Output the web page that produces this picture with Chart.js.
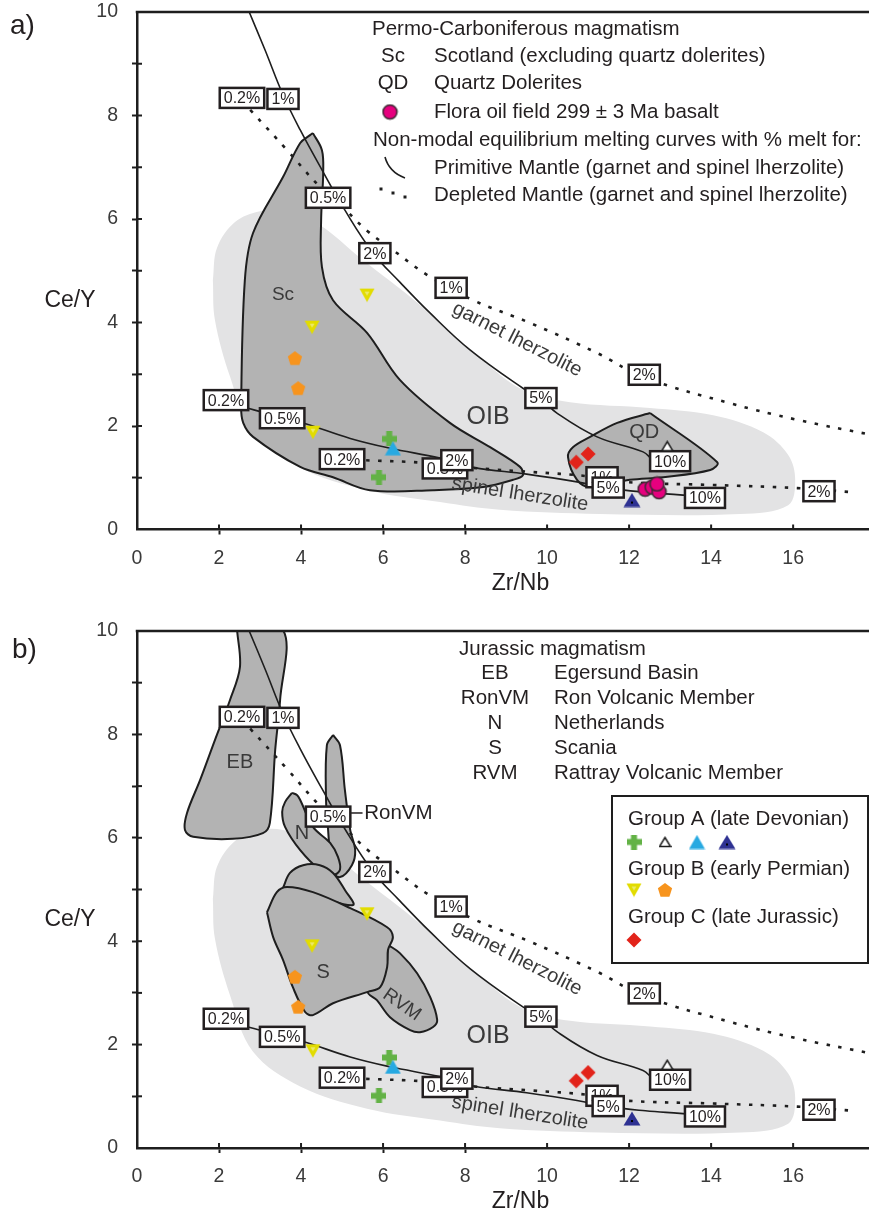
<!DOCTYPE html>
<html>
<head>
<meta charset="utf-8">
<script src="https://cdn.jsdelivr.net/npm/chart.js@4.4.1/dist/chart.umd.min.js"></script>
<style>
  body { margin: 0; background: #fff; }
  canvas { display: block; }
</style>
</head>
<body>
<canvas id="chartA" width="869" height="600"></canvas>
<canvas id="chartB" width="869" height="620"></canvas>
<script>
const FONT = "'Liberation Sans', Arial, Helvetica, sans-serif";
Chart.defaults.font.family = FONT;

//region data (Zr/Nb, Ce/Y)
const X_MAX = 17.85;

// OIB field (light grey, no outline)
const oibField = [[1.85,4.82],[1.95,5.44],[2.39,5.94],[3.0,6.15],[3.56,6.15],[4.46,5.88],[5.44,5.25],[6.9,4.34],[8.37,3.31],[9.41,2.7],[10.56,2.46],[12.51,2.35],[14.05,2.21],[15.27,1.88],[15.88,1.44],[16.05,0.96],[15.88,0.47],[14.71,0.3],[11.29,0.3],[8.85,0.38],[7.39,0.53],[5.61,0.76],[3.98,1.19],[2.83,1.86],[2.27,2.95],[1.9,4.05]];

// panel a fields
const scField = [[4.29,7.66],[4.51,7.33],[4.54,6.89],[4.49,5.98],[4.51,5.07],[4.78,4.43],[5.61,3.8],[6.41,2.89],[7.63,2.06],[8.61,1.59],[9.34,1.21],[9.41,1.05],[9.17,0.96],[8.44,0.82],[7.22,0.76],[5.68,0.76],[4.78,1.01],[3.98,1.21],[2.83,1.79],[2.59,2.06],[2.54,2.37],[2.63,4.82],[2.83,5.73],[3.56,6.81],[3.98,7.47],[4.22,7.62]];
const qdField = [[12.51,2.25],[14.15,1.3],[13.98,1.15],[12.83,1.01],[12.02,0.96],[11.05,0.82],[10.73,0.96],[10.51,1.4],[10.63,1.59],[11.05,1.79],[11.71,2.06]];

// panel b fields
const ebField = [[2.44,10.02],[2.51,9.3],[2.27,8.67],[1.9,7.89],[1.54,7.12],[1.22,6.48],[1.17,6.15],[1.37,6.02],[2.34,5.98],[3.07,6.09],[3.24,6.29],[3.37,7.7],[3.49,8.67],[3.56,10.02]];
const ronField = [[4.78,7.99],[4.95,7.79],[5.07,6.92],[5.2,6.15],[5.32,5.76],[5.24,5.47],[4.95,5.24],[4.71,5.38],[4.71,5.57],[4.66,6.15],[4.61,6.73],[4.63,7.79]];
const nField = [[3.78,6.87],[3.61,6.69],[3.54,6.5],[3.61,6.21],[3.98,5.76],[4.46,5.38],[4.78,5.28],[4.95,5.38],[4.9,5.63],[4.71,5.9],[4.29,6.21],[3.98,6.73],[3.9,6.83]];
const blobField = [[3.56,5.03],[3.73,5.32],[4.05,5.47],[4.46,5.47],[4.78,5.32],[5.07,4.99],[5.27,4.7],[4.46,4.84],[3.73,4.99]];
const sField = [[3.17,4.56],[3.41,4.95],[3.66,5.05],[4.29,4.95],[5.2,4.64],[6.1,4.27],[6.24,4.08],[6.12,3.83],[6.1,3.5],[5.93,3.11],[5.63,3.02],[4.78,2.8],[4.29,2.57],[4.1,2.63],[3.8,3.11],[3.56,3.64],[3.32,4.08]];
const rvmField = [[6.12,3.93],[6.41,3.77],[6.83,3.38],[7.15,2.92],[7.32,2.48],[7.22,2.34],[6.9,2.24],[6.66,2.28],[6.17,2.53],[5.85,2.86],[5.63,3.02],[6.05,3.44]];

// non-modal equilibrium melting curves
const garnetPM = [[2.71,10.05],[3.12,9.27],[3.56,8.4],[3.98,7.72],[4.51,6.95],[5.07,6.17],[5.76,5.34],[6.41,4.78],[7.15,4.18],[8.12,3.47],[9.41,2.73],[9.83,2.54],[10.24,2.25],[11.22,1.79],[12.34,1.5],[12.55,1.36]];
const garnetDM = [[2.76,8.11],[3.66,7.33],[4.46,6.62],[5.12,6.15],[5.6,5.78],[6.24,5.4],[7.15,4.88],[8.2,4.43],[9.59,3.99],[11.22,3.41],[12.34,2.95],[14.46,2.44],[16.1,2.12],[17.9,1.83]];
const spinelPM = [[2.17,2.5],[2.59,2.37],[3.05,2.27],[3.54,2.15],[4.05,2.06],[5.2,1.76],[6.17,1.57],[7.39,1.38],[8.2,1.2],[9.5,1.07],[10.73,0.92],[11.5,0.8],[12.4,0.72],[13.24,0.67],[13.85,0.63]];
const spinelDM = [[5.0,1.36],[5.51,1.34],[6.98,1.29],[8.2,1.19],[9.66,1.11],[10.98,1.03],[11.85,0.92],[14.05,0.86],[16.1,0.8],[17.46,0.72]];

// % melt tags on the curves
const garnetPMTags = [['1%',3.56,8.32],['2%',5.8,5.34],['5%',9.85,2.54],['10%',13.0,1.32]];
const garnetDMTags = [['0.2%',2.56,8.34],['0.5%',4.66,6.41],['1%',7.66,4.67],['2%',12.37,2.99]];
const spinelPMTags = [['0.2%',2.17,2.5],['0.5%',3.54,2.15],['2%',7.8,1.34],['5%',11.49,0.81],['10%',13.85,0.61]];
const spinelDMTags = [['0.2%',5.0,1.36],['0.5%',7.51,1.18],['1%',11.34,1.01],['2%',16.63,0.74]];

// samples
const groupA_green = [[6.15,1.75],[5.9,1.01]];
const groupA_open = [[12.93,1.61]];
const groupA_cyan = [[6.24,1.57]];
const groupA_navy = [[12.07,0.57]];
const groupB_yellow = [[5.61,4.53],[4.27,3.91],[4.29,1.88]];
const groupB_orange = [[3.85,3.31],[3.93,2.73]];
const groupC_red = [[10.71,1.3],[11.0,1.46]];
const floraBasalt = [[12.39,0.78],[12.56,0.82],[12.73,0.73],[12.68,0.88]];

// field / curve names
const fieldNamesA = [['Sc',3.56,4.53],['OIB',8.56,2.17],['QD',12.37,1.88]];
const fieldNamesB = [['EB',2.51,7.45],['N',4.02,6.09],['S',4.54,3.4],['RVM',6.46,2.77],['OIB',8.56,2.17]];
const curveNames = [['garnet lherzolite',9.27,3.67],['spinel lherzolite',9.34,0.68]];
//endregion

const nameSize = { OIB: 25, Sc: 19, QD: 20, EB: 20, N: 20, S: 20, RVM: 19 };
const nameAngle = { RVM: 35, 'garnet lherzolite': 27, 'spinel lherzolite': 9 };

const xy = arr => arr.map(p => ({ x: p[0], y: p[1] }));

function icon(w, h, draw) {
    const c = document.createElement('canvas');
    c.width = w; c.height = h;
    draw(c.getContext('2d'));
    return c;
}
function poly(g, pts, fill, stroke, lw) {
    g.beginPath();
    pts.forEach((p, i) => i ? g.lineTo(p[0], p[1]) : g.moveTo(p[0], p[1]));
    g.closePath();
    if (fill) { g.fillStyle = fill; g.fill(); }
    if (stroke) { g.strokeStyle = stroke; g.lineWidth = lw; g.stroke(); }
}
const icons = {
    green: icon(15, 15, g => { g.fillStyle = '#63b246'; g.fillRect(4.5, 0, 6, 15); g.fillRect(0, 4.5, 15, 6); }),
    open: icon(13, 12, g => poly(g, [[6.5, 1.5], [12, 10.5], [1, 10.5]], '#fff', '#1e1e1e', 1.5)),
    cyan: icon(17, 15, g => poly(g, [[8.5, 0.5], [16.5, 14.5], [0.5, 14.5]], '#27a9e1')),
    navy: icon(18, 15, g => { poly(g, [[9, 0.5], [17.5, 14.5], [0.5, 14.5]], '#2e3192'); g.fillStyle = '#000'; g.fillRect(8, 9, 2, 2); }),
    yellow: icon(16, 15, g => { poly(g, [[0.5, 1], [15.5, 1], [8, 14.5]], '#e2dc00'); poly(g, [[5.5, 4], [10.5, 4], [8, 8]], '#ecea6a'); }),
    orange: icon(16, 16, g => {
        const pts = [];
        for (let i = 0; i < 5; i++) { const a = -Math.PI / 2 + i * 2 * Math.PI / 5; pts.push([8 + 7.5 * Math.cos(a), 8.6 + 7.5 * Math.sin(a)]); }
        poly(g, pts, '#f7941d');
    }),
    red: icon(16, 16, g => poly(g, [[8, 0.5], [15.5, 8], [8, 15.5], [0.5, 8]], '#e2231a')),
    pink: icon(17, 17, g => { g.beginPath(); g.arc(8.5, 8.5, 7, 0, Math.PI * 2); g.fillStyle = '#e6007e'; g.fill(); g.strokeStyle = '#3a2a33'; g.lineWidth = 1.5; g.stroke(); })
};

function fieldSet(label, arr, color, outline) {
    return {
        label, data: xy(arr.concat([arr[0]])), showLine: true, fill: 'shape',
        backgroundColor: color, borderColor: outline ? '#1e1e1e' : 'rgba(0,0,0,0)',
        borderWidth: outline ? 2 : 1, pointRadius: 0, tension: 0.35
    };
}
function curveSet(label, arr, dotted) {
    return {
        label, data: xy(arr), showLine: true, fill: false, borderColor: '#1e1e1e',
        borderWidth: dotted ? 2.6 : 1.6, borderDash: dotted ? [3.5, 8.5] : [],
        pointRadius: 0, tension: 0.4
    };
}
function pointSet(label, arr, img) {
    return { label, data: xy(arr), showLine: false, pointStyle: img, pointRadius: 5, pointHoverRadius: 5 };
}

function text(ctx, s, x, y, size, align, color, rot) {
    ctx.save();
    ctx.translate(x, y);
    if (rot) ctx.rotate(rot * Math.PI / 180);
    ctx.font = size + 'px ' + FONT;
    ctx.fillStyle = color || '#231f20';
    ctx.textAlign = align || 'left';
    ctx.textBaseline = 'middle';
    ctx.fillText(s, 0, 0);
    ctx.restore();
}
function line(ctx, x1, y1, x2, y2) {
    ctx.beginPath(); ctx.moveTo(x1, y1); ctx.lineTo(x2, y2); ctx.stroke();
}
function tagBox(ctx, t, px, py) {
    ctx.font = '16px ' + FONT;
    const w = ctx.measureText(t).width + 8, h = 20;
    ctx.fillStyle = '#fff';
    ctx.fillRect(px - w / 2, py - h / 2, w, h);
    ctx.lineWidth = 2.5;
    ctx.strokeStyle = '#231f20';
    ctx.strokeRect(px - w / 2, py - h / 2, w, h);
    text(ctx, t, px, py + 1, 16, 'center', '#231f20');
}

const annot = {
    id: 'annot',
    afterDatasetDraw(chart, args, opts) {
        if (chart.data.datasets[args.index].label !== 'garnetPM') return;
        const ctx = chart.ctx, X = v => chart.scales.x.getPixelForValue(v), Y = v => chart.scales.y.getPixelForValue(v);
        const names = opts.panel === 'a' ? fieldNamesA : fieldNamesB;
        names.forEach(([t, x, y]) => text(ctx, t, X(x), Y(y), nameSize[t], 'center', '#3a3a3a', nameAngle[t]));
        curveNames.forEach(([t, x, y]) => text(ctx, t, X(x), Y(y), 20, 'center', '#3a3a3a', nameAngle[t]));
        [garnetDMTags, spinelDMTags, garnetPMTags, spinelPMTags].forEach(list =>
            list.forEach(([t, x, y]) => tagBox(ctx, t, X(x), Y(y))));
        if (opts.panel === 'b') {
            ctx.strokeStyle = '#231f20'; ctx.lineWidth = 1.5;
            line(ctx, X(5.22), Y(6.48), X(5.5), Y(6.48));
            text(ctx, 'RonVM', X(5.54), Y(6.48), 20.5, 'left');
        }
    },
    afterDraw(chart, args, opts) {
        const ctx = chart.ctx, a = chart.chartArea, xs = chart.scales.x, ys = chart.scales.y;
        ctx.save();
        ctx.strokeStyle = '#1e1e1e';
        ctx.lineWidth = 2.5;
        line(ctx, a.left - 1.25, a.top, a.right, a.top);
        ctx.lineWidth = 2;
        xs.ticks.forEach((t, i) => { if (t.value > 0) { const p = xs.getPixelForTick(i); line(ctx, p, a.bottom, p, a.bottom - 5); } });
        ys.ticks.forEach((t, i) => { if (t.value > 0 && t.value < 10) { const p = ys.getPixelForTick(i); line(ctx, a.left, p, a.left + 5, p); } });

        text(ctx, 'Ce/Y', 70, ys.getPixelForValue(4.42), 23, 'center', '#231f20');
        text(ctx, 'Zr/Nb', xs.getPixelForValue(9.35), a.bottom + 54, 23, 'center', '#231f20');

        const f = 20.5;
        if (opts.panel === 'a') {
            text(ctx, 'a)', 10, 26, 28, 'left');
            text(ctx, 'Permo-Carboniferous magmatism', 372, 29, f);
            text(ctx, 'Sc', 393, 56, f, 'center');
            text(ctx, 'Scotland (excluding quartz dolerites)', 434, 56, f);
            text(ctx, 'QD', 393, 83, f, 'center');
            text(ctx, 'Quartz Dolerites', 434, 83, f);
            ctx.drawImage(icons.pink, 390 - 8.5, 112 - 8.5);
            text(ctx, 'Flora oil field 299 ± 3 Ma basalt', 434, 112, f);
            text(ctx, 'Non-modal equilibrium melting curves with % melt for:', 373, 140, f);
            ctx.lineWidth = 1.6;
            ctx.beginPath(); ctx.moveTo(385, 157); ctx.quadraticCurveTo(389, 172, 405, 178); ctx.stroke();
            text(ctx, 'Primitive Mantle (garnet and spinel lherzolite)', 434, 168, f);
            ctx.fillStyle = '#1e1e1e';
            [[381, 189], [393, 193], [405, 197]].forEach(p => ctx.fillRect(p[0] - 1.5, p[1] - 1.5, 3, 3));
            text(ctx, 'Depleted Mantle (garnet and spinel lherzolite)', 434, 195, f);
        } else {
            text(ctx, 'b)', 12, 50, 28, 'left');
            text(ctx, 'Jurassic magmatism', 459, 49, f);
            [['EB', 'Egersund Basin'], ['RonVM', 'Ron Volcanic Member'], ['N', 'Netherlands'], ['S', 'Scania'], ['RVM', 'Rattray Volcanic Member']]
                .forEach(([k, d], i) => { text(ctx, k, 495, 73 + i * 25, f, 'center'); text(ctx, d, 554, 73 + i * 25, f); });
            ctx.fillStyle = '#fff';
            ctx.fillRect(612, 196, 256, 167);
            ctx.lineWidth = 2;
            ctx.strokeStyle = '#1e1e1e';
            ctx.strokeRect(612, 196, 256, 167);
            text(ctx, 'Group A (late Devonian)', 628, 219, f);
            [['green', 634], ['open', 665], ['cyan', 697], ['navy', 727]].forEach(([k, x]) =>
                ctx.drawImage(icons[k], x - icons[k].width / 2, 242 - icons[k].height / 2));
            text(ctx, 'Group B (early Permian)', 628, 269, f);
            [['yellow', 634], ['orange', 665]].forEach(([k, x]) =>
                ctx.drawImage(icons[k], x - icons[k].width / 2, 290 - icons[k].height / 2));
            text(ctx, 'Group C (late Jurassic)', 628, 317, f);
            ctx.drawImage(icons.red, 634 - 8, 340 - 8);
        }
        ctx.restore();
    }
};

function buildChart(id, panel) {
    const canvas = document.getElementById(id);
    const H = canvas.height;
    const plotTop = panel === 'a' ? 12 : 31;
    const plotBottom = panel === 'a' ? 529.5 : 548;

    const points = [];
    if (panel === 'a') points.push(pointSet('Flora basalt', floraBasalt, icons.pink));
    points.push(
        pointSet('Group A navy', groupA_navy, icons.navy),
        pointSet('Group A open', groupA_open, icons.open),
        pointSet('Group A cyan', groupA_cyan, icons.cyan),
        pointSet('Group A green', groupA_green, icons.green),
        pointSet('Group C', groupC_red, icons.red),
        pointSet('Group B orange', groupB_orange, icons.orange),
        pointSet('Group B yellow', groupB_yellow, icons.yellow)
    );
    const curves = [
        curveSet('garnetPM', garnetPM, false),
        curveSet('garnetDM', garnetDM, true),
        curveSet('spinelPM', spinelPM, false),
        curveSet('spinelDM', spinelDM, true)
    ];
    const dark = '#b3b3b3';
    const fields = panel === 'a'
        ? [fieldSet('QD', qdField, dark, true), fieldSet('Sc', scField, dark, true)]
        : [fieldSet('S', sField, dark, true), fieldSet('blob', blobField, dark, true), fieldSet('N', nField, dark, true),
           fieldSet('RonVM', ronField, dark, true), fieldSet('RVM', rvmField, dark, true), fieldSet('EB', ebField, dark, true)];
    fields.push(fieldSet('OIB', oibField, '#e3e3e4', false));

    const tickCol = c => (c.tick && c.tick.value > 0 && c.tick.value < 10) ? '#1e1e1e' : 'rgba(0,0,0,0)';

    return new Chart(canvas, {
        type: 'line',
        data: { datasets: points.concat(curves, fields) },
        options: {
            responsive: false,
            devicePixelRatio: 1,
            animation: false,
            events: [],
            layout: { autoPadding: false, padding: { top: plotTop, left: 0, right: 0, bottom: 0 } },
            plugins: { legend: { display: false }, tooltip: { enabled: false }, annot: { panel } },
            scales: {
                x: {
                    type: 'linear', min: 0, max: X_MAX,
                    afterFit: s => { s.height = H - plotBottom; s.paddingLeft = 0; s.paddingRight = 0; },
                    ticks: { stepSize: 2, includeBounds: false, autoSkip: false, maxRotation: 0, padding: 12, color: '#3a3a3a', font: { size: 19.5 } },
                    grid: { drawOnChartArea: false, tickLength: 5, tickWidth: 2, tickColor: tickCol },
                    border: { display: true, color: '#1e1e1e', width: 2.5 }
                },
                y: {
                    type: 'linear', min: 0, max: 10,
                    afterFit: s => { s.width = 137; s.paddingTop = 0; s.paddingBottom = 0; },
                    ticks: { stepSize: 1, autoSkip: false, padding: 14, color: '#3a3a3a', font: { size: 19.5 },
                             callback: v => (v % 2 === 0 ? String(v) : '') },
                    grid: { drawOnChartArea: false, tickLength: 5, tickWidth: 2, tickColor: tickCol },
                    border: { display: true, color: '#1e1e1e', width: 2.5 }
                }
            }
        },
        plugins: [annot]
    });
}

buildChart('chartA', 'a');
buildChart('chartB', 'b');
</script>
</body>
</html>
